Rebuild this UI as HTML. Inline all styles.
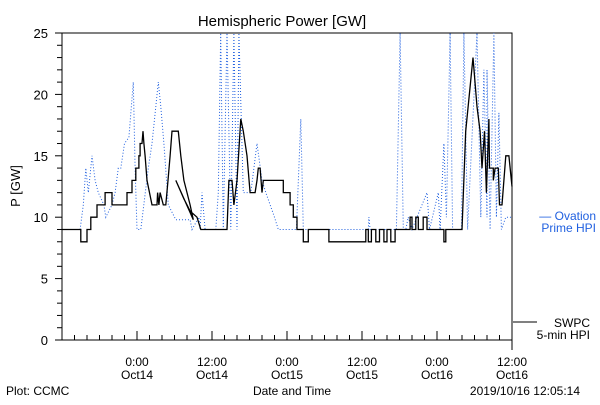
<!DOCTYPE html>
<html><head><meta charset="utf-8"><style>
body{margin:0;background:#fff;}
svg text{font-family:"Liberation Sans",sans-serif;}
</style></head><body>
<svg id="chart" width="600" height="400" xmlns="http://www.w3.org/2000/svg">
<rect width="600" height="400" fill="#fff"/>
<text x="282" y="26" font-size="15" text-anchor="middle">Hemispheric Power [GW]</text>
<text x="20" y="186" font-size="13" text-anchor="middle" transform="rotate(-90 20 186)">P [GW]</text>
<g id="axes"></g>
<g id="series"></g>
<text x="596" y="220" font-size="12" fill="#2060e0" text-anchor="end">— Ovation</text>
<text x="596" y="232" font-size="12" fill="#2060e0" text-anchor="end">Prime HPI</text>
<line x1="513" y1="322" x2="537" y2="322" stroke="#000"/>
<text x="590" y="327" font-size="12" text-anchor="end">SWPC</text>
<text x="590" y="339" font-size="12" text-anchor="end">5-min HPI</text>
<text x="292" y="395" font-size="12" text-anchor="middle">Date and Time</text>
<text x="6" y="395" font-size="12">Plot: CCMC</text>
<text x="580" y="395" font-size="12" text-anchor="end">2019/10/16 12:05:14</text>
</svg>
<script>
const yTicks=[0,5,10,15,20,25];
const xTickHours=[12,24,36,48,60,72];
const xTickTimes=["0:00","12:00","0:00","12:00","0:00","12:00"];
const xTickDates=["Oct14","Oct14","Oct15","Oct15","Oct16","Oct16"];
const swpcHours=[0,3,3,4,4,4.6,4.6,5.6,5.6,6.9,6.9,8,8,10.4,10.4,11.2,11.2,11.8,11.8,12.3,12.3,12.5,12.5,12.8,12.96,13.1,13.3,13.6,14,14.4,15.2,15.3,15.5,15.7,16.2,16.6,16.96,17.3,17.6,18.6,19,19.5,20,20.5,21,18.2,19.5,20.5,21.6,22.2,26.4,26.7,27.2,27.5,28,28.6,29,29.6,30.1,30.9,31.2,31.4,31.7,32,32.2,32.5,35.4,35.4,36.5,36.5,37,37,37.6,37.6,38.6,38.6,39.4,39.4,42.7,42.7,48.6,48.6,49,49,49.5,49.5,50.2,50.2,50.8,50.8,51.5,51.5,52,52,52.6,52.6,53.3,53.3,55.7,55.7,56,56,56.6,56.6,57,57,57.8,57.8,58.4,58.4,61.1,61.1,61.4,61.4,64,64.6,65.76,66.4,66.9,67.2,67.6,67.9,68.3,68.4,68.6,69,69,69.3,69.8,70,70.4,71,71.5,72];
const swpcValues=[9,9,8,8,9,9,10,10,11,11,12,12,11,11,12,12,13,13,14,14,15,15,16,16,17,16,15,13,12,11,11,12,11,12,11,11,13,15,17,17,15,13,12,11,9.8,13,11.5,10.5,10,9,9,13,13,11,13,18,17,15,12,12,13,14,14,12,13,13,13,12,12,11,11,10,10,9,9,8,8,9,9,8,8,9,9,8,8,9,9,8,8,9,9,8,8,9,9,8,8,9,9,10,10,9,9,10,10,9,9,10,10,9,9,8,8,9,9,17,23,19,17,14,17,12,18,14,14,14,13,14,14,11,11,15,15,12.5];
const ovationHours=[0,2.9,3.4,3.8,4.2,4.8,5.3,5.8,6.7,7,8,8.5,9,9.4,10,10.7,11.4,11.7,12,12.6,13.8,14.4,15,15.4,15.8,16.3,17,18.2,20.5,20.8,21.9,22.1,22.4,22.9,24.6,25,25.4,25.8,26.4,27,27.5,28,28.3,29,30.2,31.2,32,32.6,34,34.6,36,37.5,38.2,38.6,49,49.1,49.3,53.5,54.1,54.6,55,55.4,56,58.4,58.8,60.2,60.5,61.1,61.5,62.1,62.5,63.9,64.3,64.9,66.4,67,67.5,68,68,68.5,69.1,69.5,69.9,70.3,71,72];
const ovationValues=[9,9,11,14,12,15,13,12,11,10,11,12,14,14,16,16.5,21,14,9,9,14,16,19,21,19,16,11,9.8,9.8,9,10,9,12,9,9,12,25,9,25,9,25,9,25,12,12,16,13,12,10,9,9,9,18,9,9,10,9,9,25,9,9,10,9,12,9,12,9,16,10,25,9,9,25,9,25,10,22,10,22,9,25,10,18.5,9,10,10];

const X0=62,X1=512,Y0=340,Y1=33,NS="http://www.w3.org/2000/svg";
const xs=h=>X0+(h/72)*(X1-X0);
const ys=v=>Y0-(v/25)*(Y0-Y1);
const axes=document.getElementById('axes'),ser=document.getElementById('series');
function mk(tag,attrs,parent){const e=document.createElementNS(NS,tag);for(const k in attrs)e.setAttribute(k,attrs[k]);parent.appendChild(e);return e;}

const frame=mk('path',{d:`M${X0},${Y1}H${X1}V350M${X0},${Y1}V${Y0}H${X1}`,fill:'none',stroke:'#000'},axes);


for(let v=0;v<=25;v++){
  const t=mk('line',{x1:X0-(v%5==0?7:5),x2:X0,y1:ys(v),y2:ys(v),stroke:'#000'},axes);
  
  
}
yTicks.forEach(v=>{
  const t=mk('text',{x:48,y:ys(v)+5,'font-size':13,'text-anchor':'end'},axes);t.textContent=v;
  
  
});
for(let h=0;h<=72;h+=2){
  const t=mk('line',{x1:xs(h),x2:xs(h),y1:Y0,y2:Y0-(h%12==0?9:5),stroke:'#000'},axes);
  
  
}
xTickHours.forEach((h,i)=>{
  const a=mk('text',{x:xs(h),y:366,'font-size':12,'text-anchor':'middle'},axes);a.textContent=xTickTimes[i];
  
  
  const b=mk('text',{x:xs(h),y:379,'font-size':12,'text-anchor':'middle'},axes);b.textContent=xTickDates[i];
  
  
});
const bp=ovationHours.map((h,i)=>xs(h).toFixed(1)+','+ys(ovationValues[i]).toFixed(1)).join(' ');
const bl=mk('polyline',{points:bp,fill:'none',stroke:'#2060e0','stroke-width':1,'stroke-dasharray':'1 2'},ser);


const kp=swpcHours.map((h,i)=>xs(h).toFixed(1)+','+ys(swpcValues[i]).toFixed(1)).join(' ');
const kl=mk('polyline',{points:kp,fill:'none',stroke:'#000','stroke-width':1.3},ser);


</script>
</body></html>
